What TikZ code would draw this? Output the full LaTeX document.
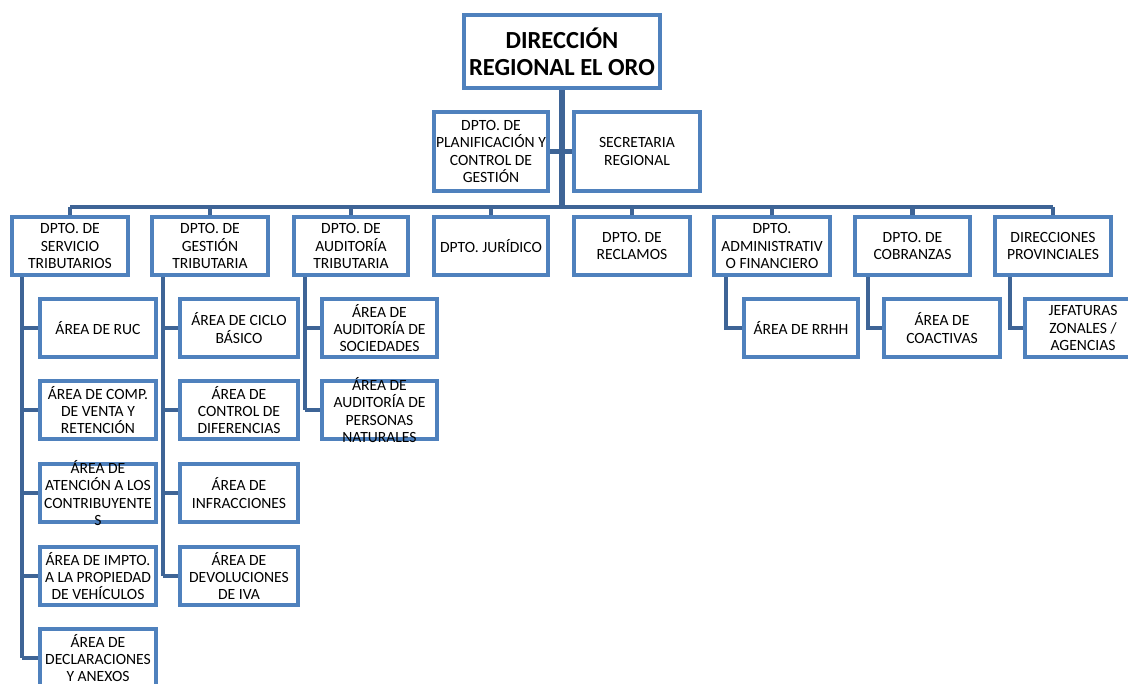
\documentclass[tikz,border=0pt]{standalone}
\usepackage{fontspec}
\setmainfont{Carlito}
\usetikzlibrary{fit}
\definecolor{boxblue}{RGB}{79,129,189}
\definecolor{linkblue}{RGB}{62,100,150}
\tikzset{
  orgbox/.style={draw=boxblue, line width=3.3pt, fill=white, inner sep=0pt},
  orgtext/.style={align=center, inner sep=0pt, font=\fontsize{11.7}{12.9}\selectfont, text=black},
  titletext/.style={align=center, inner sep=0pt, font=\fontsize{18.4}{20.3}\selectfont\bfseries, text=black},
  link/.style={draw=linkblue, line width=3.2pt},
  trunk/.style={draw=linkblue, line width=3.8pt},
}
% box with corners in pixel-like units and centred caption
\newcommand{\orgunit}[5][orgtext]{%
  \node[orgbox, fit={(#3) (#4)}] (#2) {};
  \node[#1] (#2-t) at (#2.center) {#5};}
\begin{document}
\begin{tikzpicture}[x=0.75pt, y=-0.75pt]
\useasboundingbox (0,0) rectangle (1128,684);

% connector positions
\coordinate (bar) at (0,207);
\coordinate (v1) at (22,0);
\coordinate (v2) at (163,0);
\coordinate (v3) at (305,0);
\coordinate (v6) at (726,0);
\coordinate (v7) at (868,0);
\coordinate (v8) at (1010,0);

% top level
\orgunit[titletext]{dir}{464,15}{660,88}{DIRECCIÓN\\REGIONAL EL ORO}
\orgunit{plan}{434,112}{548,191}{DPTO. DE\\PLANIFICACIÓN Y\\CONTROL DE\\GESTIÓN}
\orgunit{secr}{574,112}{700,191}{SECRETARIA\\REGIONAL}

% departments
\orgunit{d1}{12,217}{128,275}{DPTO. DE\\SERVICIO\\TRIBUTARIOS}
\orgunit{d2}{152,217}{268,275}{DPTO. DE\\GESTIÓN\\TRIBUTARIA}
\orgunit{d3}{294,217}{408,275}{DPTO. DE\\AUDITORÍA\\TRIBUTARIA}
\orgunit{d4}{434,217}{548,275}{DPTO. JURÍDICO}
\orgunit{d5}{574,217}{690,275}{DPTO. DE\\RECLAMOS}
\orgunit{d6}{714,217}{830,275}{DPTO.\\ADMINISTRATIV\\O FINANCIERO}
\orgunit{d7}{855,217}{970,275}{DPTO. DE\\COBRANZAS}
\orgunit{d8}{995,217}{1111,275}{DIRECCIONES\\PROVINCIALES}

% areas
\orgunit{s11}{40,299}{156,357}{ÁREA DE RUC}
\orgunit{s12}{40,381}{156,439}{ÁREA DE COMP.\\DE VENTA Y\\RETENCIÓN}
\orgunit{s13}{40,464}{156,522}{ÁREA DE\\ATENCIÓN A LOS\\CONTRIBUYENTE\\S}
\orgunit{s14}{40,547}{156,605}{ÁREA DE IMPTO.\\A LA PROPIEDAD\\DE VEHÍCULOS}
\orgunit{s15}{40,629}{156,687}{ÁREA DE\\DECLARACIONES\\Y ANEXOS}

\orgunit{s21}{180,299}{298,357}{ÁREA DE CICLO\\BÁSICO}
\orgunit{s22}{180,381}{298,439}{ÁREA DE\\CONTROL DE\\DIFERENCIAS}
\orgunit{s23}{180,464}{298,522}{ÁREA DE\\INFRACCIONES}
\orgunit{s24}{180,547}{298,605}{ÁREA DE\\DEVOLUCIONES\\DE IVA}

\orgunit{s31}{322,299}{437,357}{ÁREA DE\\AUDITORÍA DE\\SOCIEDADES}
\orgunit{s32}{322,381}{437,439}{ÁREA DE\\AUDITORÍA DE\\PERSONAS\\NATURALES}

\orgunit{s61}{744,299}{858,357}{ÁREA DE RRHH}
\orgunit{s71}{884,299}{1000,357}{ÁREA DE\\COACTIVAS}
\orgunit{s81}{1025,299}{1141,357}{JEFATURAS\\ZONALES /\\AGENCIAS}

% main trunk, staff link and department bar
\draw[trunk] (dir.south) -- (dir.south |- bar);
\draw[link] (plan.east) -- (secr.west);
\draw[link] (d1.north |- bar) -- (d8.north |- bar);
\foreach \d in {d1,d2,d3,d4,d5,d6,d7,d8}
  \draw[link] (\d.north |- bar) -- (\d.north);

% area branches
\draw[link] (d1.south -| v1) -- (s15.west -| v1);
\foreach \s in {s11,s12,s13,s14,s15}
  \draw[link] (\s.west -| v1) -- (\s.west);
\draw[link] (d2.south -| v2) -- (s24.west -| v2);
\foreach \s in {s21,s22,s23,s24}
  \draw[link] (\s.west -| v2) -- (\s.west);
\draw[link] (d3.south -| v3) -- (s32.west -| v3);
\foreach \s in {s31,s32}
  \draw[link] (\s.west -| v3) -- (\s.west);
\draw[link] (d6.south -| v6) |- (s61.west);
\draw[link] (d7.south -| v7) |- (s71.west);
\draw[link] (d8.south -| v8) |- (s81.west);
\end{tikzpicture}
\end{document}
